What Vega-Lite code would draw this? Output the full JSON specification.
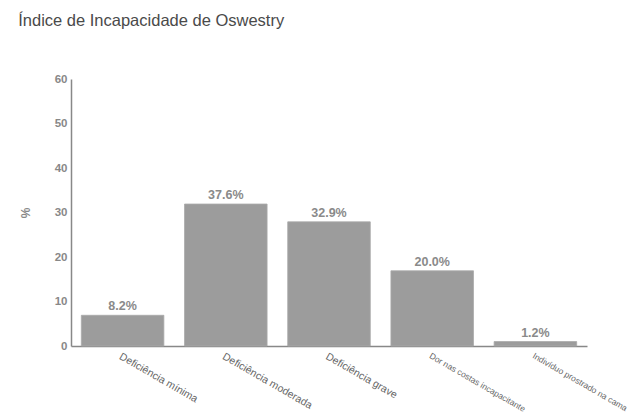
{
  "$schema": "https://vega.github.io/schema/vega-lite/v6.json",
  "autosize": "none",
  "width": 516,
  "height": 267,
  "padding": {"left": 71, "top": 79, "right": 45, "bottom": 67},
  "background": "white",
  "title": {
    "text": "Índice de Incapacidade de Oswestry",
    "anchor": "start",
    "dx": -1,
    "offset": 44,
    "font": "Liberation Sans",
    "fontSize": 16.5,
    "fontWeight": "normal",
    "color": "#4a4a4a"
  },
  "data": {
    "values": [
      {"categoria": "Deficiência mínima", "valor": 6.9, "rotulo": "8.2%"},
      {"categoria": "Deficiência moderada", "valor": 31.9, "rotulo": "37.6%"},
      {"categoria": "Deficiência grave", "valor": 27.9, "rotulo": "32.9%"},
      {"categoria": "Dor nas costas incapacitante", "valor": 16.9, "rotulo": "20.0%"},
      {"categoria": "Indivíduo prostrado na cama", "valor": 1.0, "rotulo": "1.2%"}
    ]
  },
  "encoding": {
    "x": {
      "field": "categoria",
      "type": "nominal",
      "sort": null,
      "scale": {"paddingInner": 0.2, "paddingOuter": 0.1},
      "axis": {
        "title": null,
        "labelAngle": 30,
        "labelAlign": "left",
        "labelBaseline": "top",
        "labelFont": "Liberation Sans",
        "labelFontSize": {"condition": {"test": "indexof(datum.value, 'Dor') == 0 || indexof(datum.value, 'Indiv') == 0", "value": 8.5}, "value": 10.5},
        "labelColor": "#666666",
        "labelPadding": 5,
        "labelLimit": 0,
        "labelOverlap": false,
        "labelBound": false,
        "ticks": false,
        "domainColor": "#888888",
        "domainWidth": 1.5
      }
    },
    "y": {
      "field": "valor",
      "type": "quantitative",
      "scale": {"domain": [0, 60], "nice": false},
      "axis": {
        "title": "%",
        "titleFont": "Liberation Sans",
        "titleFontSize": 12,
        "titleFontWeight": "bold",
        "titleColor": "#888888",
        "titlePadding": 22,
        "values": [0, 10, 20, 30, 40, 50, 60],
        "grid": false,
        "ticks": false,
        "labelPadding": 4,
        "labelFont": "Liberation Sans",
        "labelFontSize": 11.5,
        "labelFontWeight": "bold",
        "labelColor": "#888888",
        "domainColor": "#888888",
        "domainWidth": 1.5
      }
    }
  },
  "layer": [
    {
      "mark": {"type": "bar", "color": "#9c9c9c", "stroke": "#aaaaaa", "strokeWidth": 0.8}
    },
    {
      "mark": {"type": "text", "dy": -9, "font": "Liberation Sans", "fontSize": 12.5, "fontWeight": "bold", "color": "#8a8a8a"},
      "encoding": {"text": {"field": "rotulo"}}
    }
  ],
  "config": {"view": {"stroke": null}}
}
